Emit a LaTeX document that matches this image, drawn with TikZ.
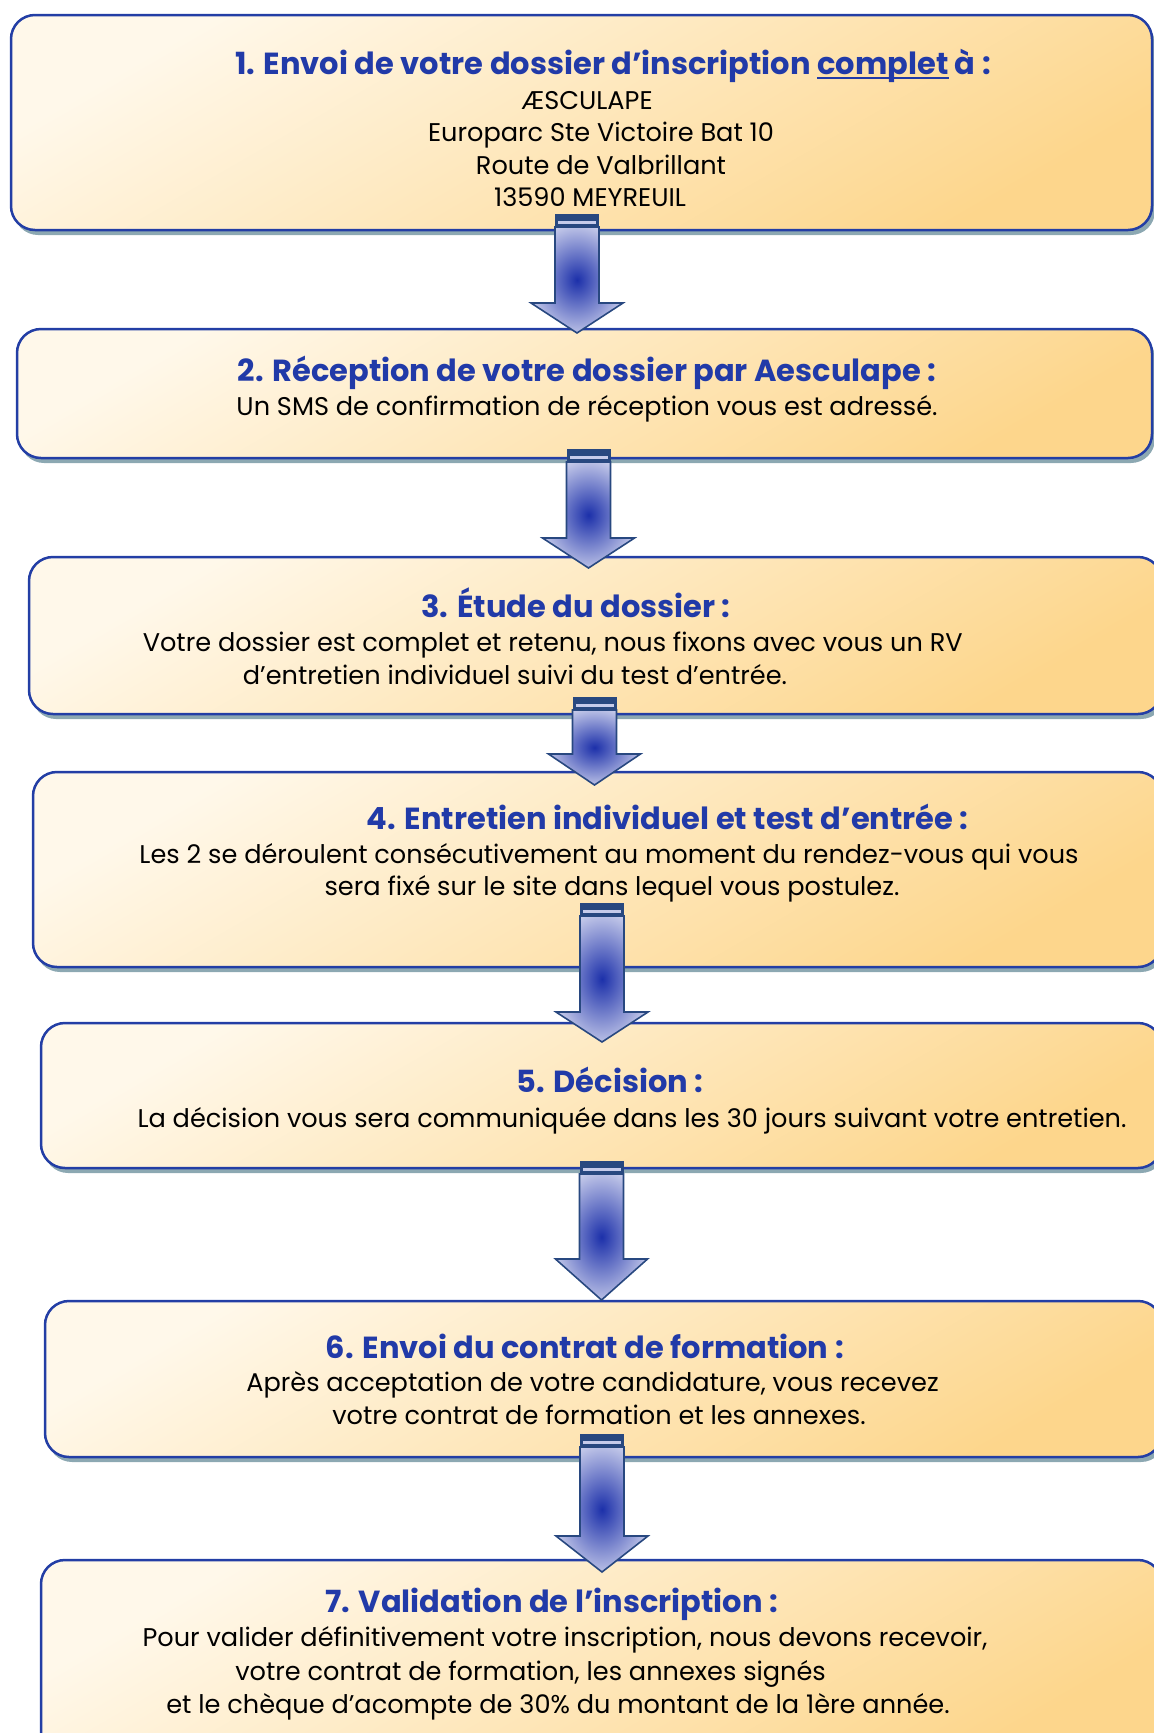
\documentclass[tikz,border=0pt]{standalone}
\usepackage{fontspec}
\setmainfont{Poppins}
\usetikzlibrary{shadows}

\definecolor{boxlight}{RGB}{255,248,234}
\definecolor{boxdark}{RGB}{253,214,140}
\definecolor{boxline}{RGB}{35,62,165}
\definecolor{shadowgrey}{RGB}{140,168,178}
\definecolor{headblue}{RGB}{33,58,168}
\definecolor{arrowline}{RGB}{40,72,128}
\definecolor{arrowdark}{RGB}{28,48,170}
\definecolor{arrowpale}{RGB}{198,203,234}

\pgfdeclareradialshading{arrowglow}{\pgfpoint{0bp}{0bp}}{color(0bp)=(arrowdark); color(27bp)=(arrowpale); color(50bp)=(arrowpale)}

% thick underline
\newcommand{\thickunder}[1]{\setbox0\hbox{#1}\rlap{\rule[-4.5pt]{\wd0}{2pt}}\box0\relax}

% block arrow: centre x, top, start of head, tip
\newcommand{\blockarrow}[4]{%
  \shade[shading=arrowglow, draw=arrowline, line width=1.6pt, line join=miter]
    (#1-22,#2+13) -- (#1+22,#2+13) -- (#1+22,#3) -- (#1+46,#3) -- (#1,#4)
    -- (#1-46,#3) -- (#1-22,#3) -- cycle;
  \fill[arrowline] (#1-22,#2) rectangle (#1+22,#2+13);
  \fill[arrowpale] (#1-19,#2+7) rectangle (#1+19,#2+9.5);
}

\tikzset{
  stepbox/.style={draw=boxline, line width=2.5pt, rounded corners=24pt,
    top color=boxlight, bottom color=boxdark, shading angle=30,
    drop shadow={shadow xshift=3pt, shadow yshift=-5pt, fill=shadowgrey, opacity=1},
    inner sep=0pt},
  head/.style={font=\bfseries\fontsize{30.5}{34}\selectfont, text=headblue,
    anchor=base, inner sep=0pt},
  body/.style={font=\fontsize{25.6}{30}\selectfont, anchor=base, inner sep=0pt},
}

\begin{document}
\begin{tikzpicture}[x=1pt, y=-1pt]
  \useasboundingbox (0,0) rectangle (1154,1733);

  % the seven steps
  \node[stepbox, minimum width=1141pt, minimum height=215pt] (b1) at (581.5,122.5) {};
  \node[stepbox, minimum width=1135pt, minimum height=129pt] (b2) at (584.5,393.5) {};
  \node[stepbox, minimum width=1133pt, minimum height=157pt] (b3) at (595.5,635.5) {};
  \node[stepbox, minimum width=1129pt, minimum height=195pt] (b4) at (597.5,869.5) {};
  \node[stepbox, minimum width=1121pt, minimum height=145pt] (b5) at (601.5,1095.5) {};
  \node[stepbox, minimum width=1117pt, minimum height=156pt] (b6) at (603.5,1379) {};
  \node[stepbox, minimum width=1121pt, minimum height=200pt] (b7) at (601.5,1660) {};

  % arrows between the steps
  \blockarrow{577}{214}{303}{333}
  \blockarrow{588.5}{449}{538}{568}
  \blockarrow{594.5}{697}{754}{785}
  \blockarrow{602}{903}{1012}{1042}
  \blockarrow{601.5}{1161}{1259}{1300}
  \blockarrow{602}{1434}{1536}{1572}

  % texts
  \node[head] (t1) at (613,74) {1. Envoi de votre dossier d’inscription \thickunder{complet} à :};
  \node[body] (t1a) at (587,109) {ÆSCULAPE};
  \node[body] (t1b) at (601,141.5) {Europarc Ste Victoire Bat 10};
  \node[body] (t1c) at (601,174.5) {Route de Valbrillant};
  \node[body] (t1d) at (590,206.5) {13590 MEYREUIL};

  \node[head] (t2) at (587,381) {2. Réception de votre dossier par Aesculape :};
  \node[body] (t2a) at (587,415.5) {Un SMS de confirmation de réception vous est adressé.};

  \node[head] (t3) at (576,617.5) {3. Étude du dossier :};
  \node[body] (t3a) at (552.7,651) {Votre dossier est complet et retenu, nous fixons avec vous un RV};
  \node[body] (t3b) at (515,684) {d’entretien individuel suivi du test d’entrée.};

  \node[head] (t4) at (667.7,829.5) {4. Entretien individuel et test d’entrée :};
  \node[body] (t4a) at (609,863) {Les 2 se déroulent consécutivement au moment du rendez-vous qui vous};
  \node[body] (t4b) at (612,895) {sera fixé sur le site dans lequel vous postulez.};

  \node[head] (t5) at (610,1092.5) {5. Décision :};
  \node[body] (t5a) at (632,1127.5) {La décision vous sera communiquée dans les 30 jours suivant votre entretien.};

  \node[head] (t6) at (584.8,1358) {6. Envoi du contrat de formation :};
  \node[body] (t6a) at (592.5,1391.5) {Après acceptation de votre candidature, vous recevez};
  \node[body] (t6b) at (599,1424.5) {votre contrat de formation et les annexes.};

  \node[head] (t7) at (551.6,1612.5) {7. Validation de l’inscription :};
  \node[body] (t7a) at (565,1646.5) {Pour valider définitivement votre inscription, nous devons recevoir,};
  \node[body] (t7b) at (530.6,1680) {votre contrat de formation, les annexes signés};
  \node[body] (t7c) at (558,1713) {et le chèque d’acompte de 30\% du montant de la 1ère année.};
\end{tikzpicture}
\end{document}
